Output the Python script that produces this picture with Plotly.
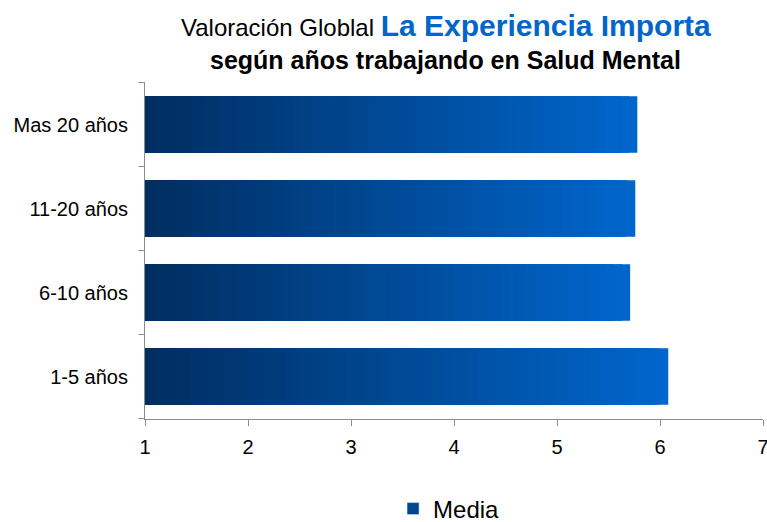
import plotly.graph_objects as go

# ---------------------------------------------------------------------------
# Data
# ---------------------------------------------------------------------------
categories = ["1-5 años", "6-10 años", "11-20 años", "Mas 20 años"]
media = [6.08, 5.71, 5.76, 5.78]
series_name = "Media"

x_min, x_max = 1, 7
x_ticks = [1, 2, 3, 4, 5, 6, 7]

DARK = (0, 45, 95)     # left end of the gradient
LIGHT = (0, 102, 204)  # right end of the gradient
N_STEPS = 60
AXIS_GREY = "#8c8c8c"

FIG_W, FIG_H = 767, 522
MARGIN = dict(l=145, r=4, t=82, b=103)
PLOT_H = FIG_H - MARGIN["t"] - MARGIN["b"]


def mix(t):
    """Colour at fraction t (0 = dark, 1 = light) of the bar gradient."""
    r, g, b = (round(d + (l - d) * t) for d, l in zip(DARK, LIGHT))
    return f"rgb({r},{g},{b})"


fig = go.Figure()

# Gradient fill: overlay progressively shorter bars, darker ones on top
for k in range(N_STEPS):
    frac = 1 - k / N_STEPS
    fig.add_trace(go.Bar(
        y=categories,
        x=[(v - x_min) * frac for v in media],
        base=x_min,
        orientation="h",
        marker=dict(color=mix(frac), line=dict(width=0)),
        showlegend=False,
        hoverinfo="skip" if k else None,
        name=series_name,
    ))

# Legend entry
fig.add_trace(go.Bar(
    y=[None], x=[None],
    orientation="h",
    name=series_name,
    marker=dict(color=mix(0.45)),
    showlegend=True,
))

fig.update_layout(
    width=FIG_W,
    height=FIG_H,
    barmode="overlay",
    bargap=0.33,
    plot_bgcolor="white",
    paper_bgcolor="white",
    font=dict(family="Liberation Sans, Arial, sans-serif", color="black"),
    margin=MARGIN,
    xaxis=dict(
        range=[x_min, x_max],
        tickvals=x_ticks,
        ticks="outside",
        ticklen=6,
        tickcolor=AXIS_GREY,
        showline=True,
        linecolor=AXIS_GREY,
        linewidth=1,
        showgrid=False,
        zeroline=False,
        tickfont=dict(size=20),
        automargin=False,
        ticklabeloverflow="allow",
        ticklabelstandoff=4,
    ),
    yaxis=dict(
        categoryorder="array",
        categoryarray=categories,
        showline=True,
        linecolor=AXIS_GREY,
        linewidth=1,
        ticks="",
        showgrid=False,
        tickfont=dict(size=20),
        ticklabelstandoff=12,
        automargin=False,
    ),
    legend=dict(
        orientation="h",
        x=0.492,
        xanchor="center",
        yref="container",
        y=(FIG_H - 509) / FIG_H,
        yanchor="middle",
        font=dict(size=24),
        itemwidth=30,
    ),
    annotations=[
        dict(
            text="Valoración Globlal <b><span style='color:#0066CC;font-size:30px'>La Experiencia Importa</span></b>",
            x=0.487, y=1 + 57 / PLOT_H, xref="paper", yref="paper",
            xanchor="center", yanchor="middle", showarrow=False,
            font=dict(size=24),
        ),
        dict(
            text="<b>según años trabajando en Salud Mental</b>",
            x=0.487, y=1 + 22 / PLOT_H, xref="paper", yref="paper",
            xanchor="center", yanchor="middle", showarrow=False,
            font=dict(size=25),
        ),
    ],
)

# Category separator ticks on the y-axis
for i in range(len(categories) + 1):
    fig.add_shape(
        type="line", xref="paper", yref="y",
        x0=-0.0105, x1=0, y0=i - 0.5, y1=i - 0.5,
        line=dict(color=AXIS_GREY, width=1),
    )

# drop the default 8px body margin so the figure sits flush in the window
fig.write_html(
    "out.html",
    config={"displayModeBar": False},
    post_script="document.body.style.margin='0';",
)
